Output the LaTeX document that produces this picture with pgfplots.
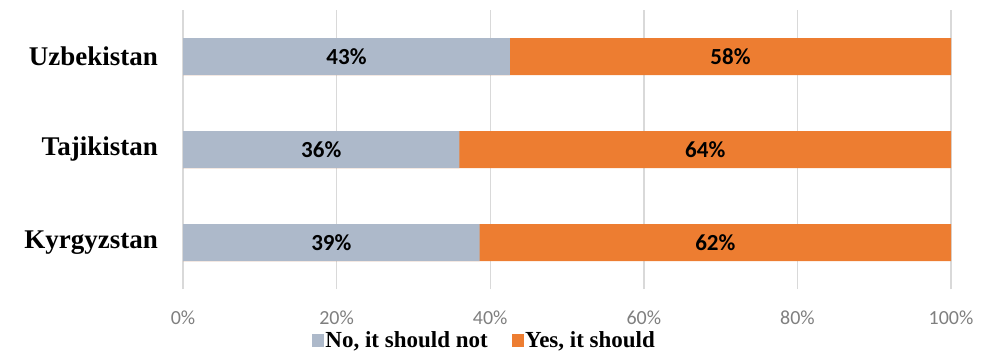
\documentclass[border=0pt]{standalone}
\usepackage{fontspec}
\setmainfont{Liberation Serif}
\newfontfamily\carlito{Carlito}
\usepackage{pgfplots}
\pgfplotsset{compat=1.18}
\definecolor{nogrey}{HTML}{ADB9CA}
\definecolor{yesorange}{HTML}{ED7D31}
\definecolor{gridc}{HTML}{D9D9D9}
\definecolor{tickc}{HTML}{7F7F7F}
\begin{document}
\begin{tikzpicture}[x=1pt,y=1pt]
\useasboundingbox (0,0) rectangle (1006,362);
\begin{axis}[
  at={(183pt,73pt)}, anchor=south west,
  scale only axis, width=768pt, height=279pt,
  xbar, bar width=37pt,
  xmin=0, xmax=1, ymin=-0.5, ymax=2.5,
  axis line style={draw=none},
  xtick={0,0.2,0.4,0.6,0.8,1},
  xticklabels={0\%,20\%,40\%,60\%,80\%,100\%},
  ytick={0,1,2},
  yticklabels={Kyrgyzstan,Tajikistan,Uzbekistan},
  major tick length=0pt,
  xmajorgrids, grid style={gridc, line width=1.4pt},
  /pgf/number format/assume math mode=true,
  xticklabel style={font=\carlito\fontsize{20}{24}\selectfont, text=tickc, yshift=-18pt},
  yticklabel style={font=\bfseries\fontsize{27}{32}\selectfont, anchor=east, inner sep=0pt, xshift=-25pt},
  legend style={at={(0.3926,-0.183)}, anchor=center, draw=none, fill=none,
    legend columns=2, font=\bfseries\fontsize{23}{27}\selectfont,
    /tikz/every odd column/.append style={column sep=0pt},
    /tikz/every even column/.append style={column sep=22pt},
    inner sep=0pt},
  legend cell align=left,
]
\addplot[fill=yesorange, draw=none, bar shift=0pt, forget plot] coordinates {
  (1,0) (1,1) (1,2)};
\addplot[fill=nogrey, draw=none, bar shift=0pt, forget plot] coordinates {
  (0.3861,0) (0.3600,1) (0.4257,2)};
\addplot[draw=none, mark=none, forget plot, bar shift=0pt,
  nodes near coords, point meta=explicit symbolic,
  every node near coord/.append style={anchor=center, font=\carlito\bfseries\fontsize{23}{27}\selectfont, text=black}]
  coordinates {
  (0.1931,0) [39\%] (0.6931,0) [62\%]
  (0.1800,1) [36\%] (0.6800,1) [64\%]
  (0.2129,2) [43\%] (0.7129,2) [58\%]};
\addlegendimage{legend image code/.code={\fill[nogrey] (-2pt,-6pt) rectangle (9pt,6pt);}}
\addlegendentry{No, it should not}
\addlegendimage{legend image code/.code={\fill[yesorange] (-2pt,-6pt) rectangle (9pt,6pt);}}
\addlegendentry{Yes, it should}
\end{axis}
\end{tikzpicture}
\end{document}
